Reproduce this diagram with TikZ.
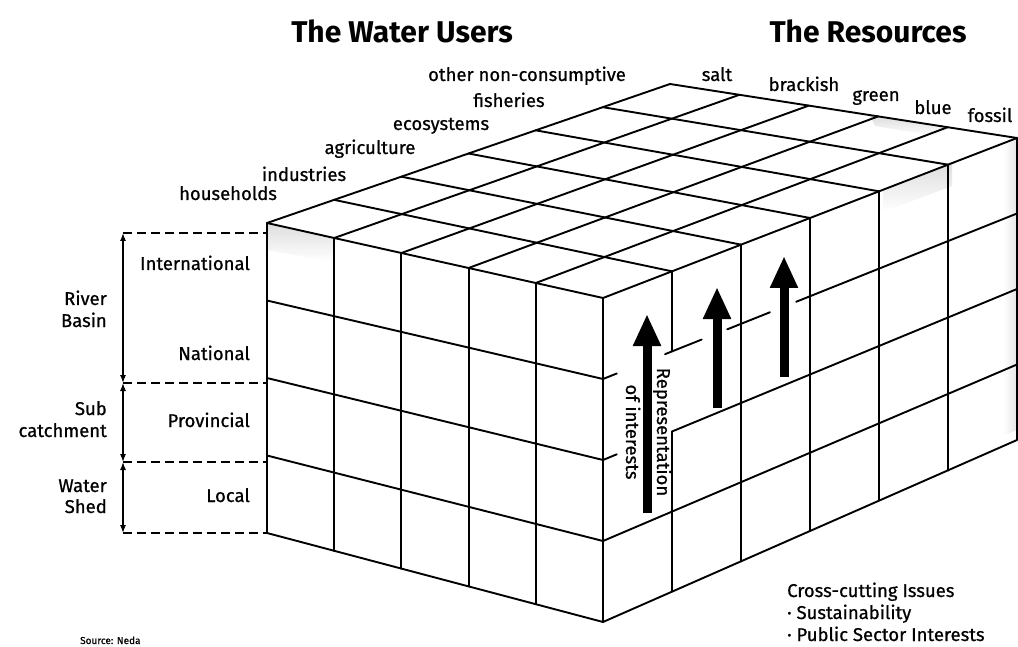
\documentclass[tikz,border=0pt]{standalone}
\usepackage{fontspec}
\setmainfont{Fira Sans}
\newfontfamily\lblfont{Fira Sans}[FakeBold=0.7]
\usetikzlibrary{calc,arrows.meta}
\begin{document}
\begin{tikzpicture}[x=1pt,y=-1pt,
  grid/.style={line width=1.9pt, line cap=round, line join=round},
  lbl/.style={font=\lblfont\fontsize{18.5}{20}\selectfont, inner sep=0pt, anchor=base},
  lvl/.style={lbl, anchor=base east},
  title/.style={font=\fontsize{30}{33}\selectfont\bfseries, inner sep=0pt, anchor=base},
  guide/.style={line width=1.2pt, dash pattern=on 9pt off 5pt},
  span/.style={line width=1.3pt, {Latex[width=6pt,length=8pt]}-{Latex[width=6pt,length=8pt]}},
  bigarrow/.style={line width=9pt, -{Triangle[width=26pt,length=32pt]}},
  stipple/.style={top color=black!13, bottom color=white}]
\useasboundingbox (0,0) rectangle (1018,647);

% corners of the block
\coordinate (L) at (267,223);
\coordinate (F) at (603,298);
\coordinate (B) at (670,84);
\coordinate (R) at (1017,138);
\coordinate (Lb) at (267,533);
\coordinate (Fb) at (603,622);
\coordinate (Rb) at (1017,440);

% row levels on the front and right edges
\foreach \w in {0,...,4}{
  \coordinate (f\w) at ($(F)!\w/4!(Fb)$);
  \coordinate (r\w) at ($(R)!\w/4!(Rb)$);
}

% light grainy shading under some edges
\shade[stipple] (267,223) -- (334,238) -- (334,262) -- (267,250) -- cycle;
\shade[stipple] (883,191) -- (952,163) -- (952,186) -- (883,212) -- cycle;
\shade[stipple] (870,116) -- (952,127) -- (935,136) -- (875,126) -- cycle;
\shade[left color=white, right color=black!10] (1003,143) -- (1017,138) -- (1017,430) -- (1003,436) -- cycle;

% top face
\foreach \u in {0,...,5} \draw[grid] ($(L)!\u/5!(F)$) -- ($(B)!\u/5!(R)$);
\foreach \v in {0,...,6} \draw[grid] ($(L)!\v/6!(B)$) -- ($(F)!\v/6!(R)$);

% left face: resources
\foreach \u in {0,...,5} \draw[grid] ($(L)!\u/5!(F)$) -- ($(Lb)!\u/5!(Fb)$);
\foreach \w in {1,...,4} \draw[grid] ($(L)!\w/4!(Lb)$) -- ($(F)!\w/4!(Fb)$);

% right face: water users, opened up around the arrows
\foreach \v in {0,2,3,4,5,6} \draw[grid] ($(F)!\v/6!(R)$) -- ($(Fb)!\v/6!(Rb)$);
\draw[grid] ($(f0)!1/6!(r0)$) -- ($(f1)!1/6!(r1)$);
\draw[grid] ($(f2)!1/6!(r2)$) -- ($(Fb)!1/6!(Rb)$);
\foreach \a/\b in {0/0.2, 0.9/1.43, 1.8/2.42, 2.8/6}
  \draw[grid] ($(f1)!\a/6!(r1)$) -- ($(f1)!\b/6!(r1)$);
\foreach \a/\b in {0/0.2, 1/6}
  \draw[grid] ($(f2)!\a/6!(r2)$) -- ($(f2)!\b/6!(r2)$);
\draw[grid] (f3) -- (r3);
\draw[grid] (f4) -- (r4);

% representation of interests
\coordinate (a1s) at (647,513); \coordinate (a1e) at (647,314);
\coordinate (a2s) at (717,408); \coordinate (a2e) at (717,287);
\coordinate (a3s) at (784,377); \coordinate (a3e) at (784,256);
\draw[bigarrow] (a1s) -- (a1e);
\draw[bigarrow] (a2s) -- (a2e);
\draw[bigarrow] (a3s) -- (a3e);
\node[lbl, rotate=-90] (rep1) at (657,432) {Representation};
\node[lbl, rotate=-90] (rep2) at (626,432) {of interests};

% titles
\node[title] (tusers) at (402,43) {The Water Users};
\node[title] (tres) at (868,43) {The Resources};

% water users
\node[lbl] (u1) at (228,200) {households};
\node[lbl] (u2) at (304,181) {industries};
\node[lbl] (u3) at (370,154) {agriculture};
\node[lbl] (u4) at (441,130) {ecosystems};
\node[lbl] (u5) at (509,107) {fisheries};
\node[lbl] (u6) at (527,81) {other non-consumptive};

% resources
\node[lbl] (s1) at (717,81) {salt};
\node[lbl] (s2) at (804,91) {brackish};
\node[lbl] (s3) at (876,101) {green};
\node[lbl] (s4) at (933,114) {blue};
\node[lbl] (s5) at (990,122) {fossil};

% administrative levels
\node[lvl] (l1) at (250,270) {International};
\node[lvl] (l2) at (250,360) {National};
\node[lvl] (l3) at (250,427) {Provincial};
\node[lvl] (l4) at (250,502) {Local};

% hydrological scales
\node[lvl] (h1a) at (107,305) {River};
\node[lvl] (h1b) at (107,327) {Basin};
\node[lvl] (h2a) at (107,415) {Sub};
\node[lvl] (h2b) at (107,437) {catchment};
\node[lvl] (h3a) at (107,492) {Water};
\node[lvl] (h3b) at (107,513) {Shed};

\coordinate (g0) at (123,233); \coordinate (e0) at (267,233);
\coordinate (g1) at (123,383); \coordinate (e1) at (267,383);
\coordinate (g2) at (123,462); \coordinate (e2) at (267,462);
\coordinate (g3) at (123,533); \coordinate (e3) at (267,533);
\draw[guide] (g0) -- (e0);
\draw[guide, line width=2.2pt] (g1) -- (e1);
\draw[guide] (g2) -- (e2);
\draw[guide] (g3) -- (e3);
\draw[span] (g0) -- (g1);
\draw[span] (g1) -- (g2);
\draw[span] (g2) -- (g3);

% cross-cutting issues
\node[lbl, anchor=base west] (c0) at (787,597) {Cross-cutting Issues};
\node[lbl, anchor=base west] (c1) at (787,619) {· Sustainability};
\node[lbl, anchor=base west] (c2) at (787,641) {· Public Sector Interests};

\node[inner sep=0pt, anchor=base west, font=\lblfont\fontsize{10}{12}\selectfont] (src) at (80,644) {Source: Neda};
\end{tikzpicture}
\end{document}
